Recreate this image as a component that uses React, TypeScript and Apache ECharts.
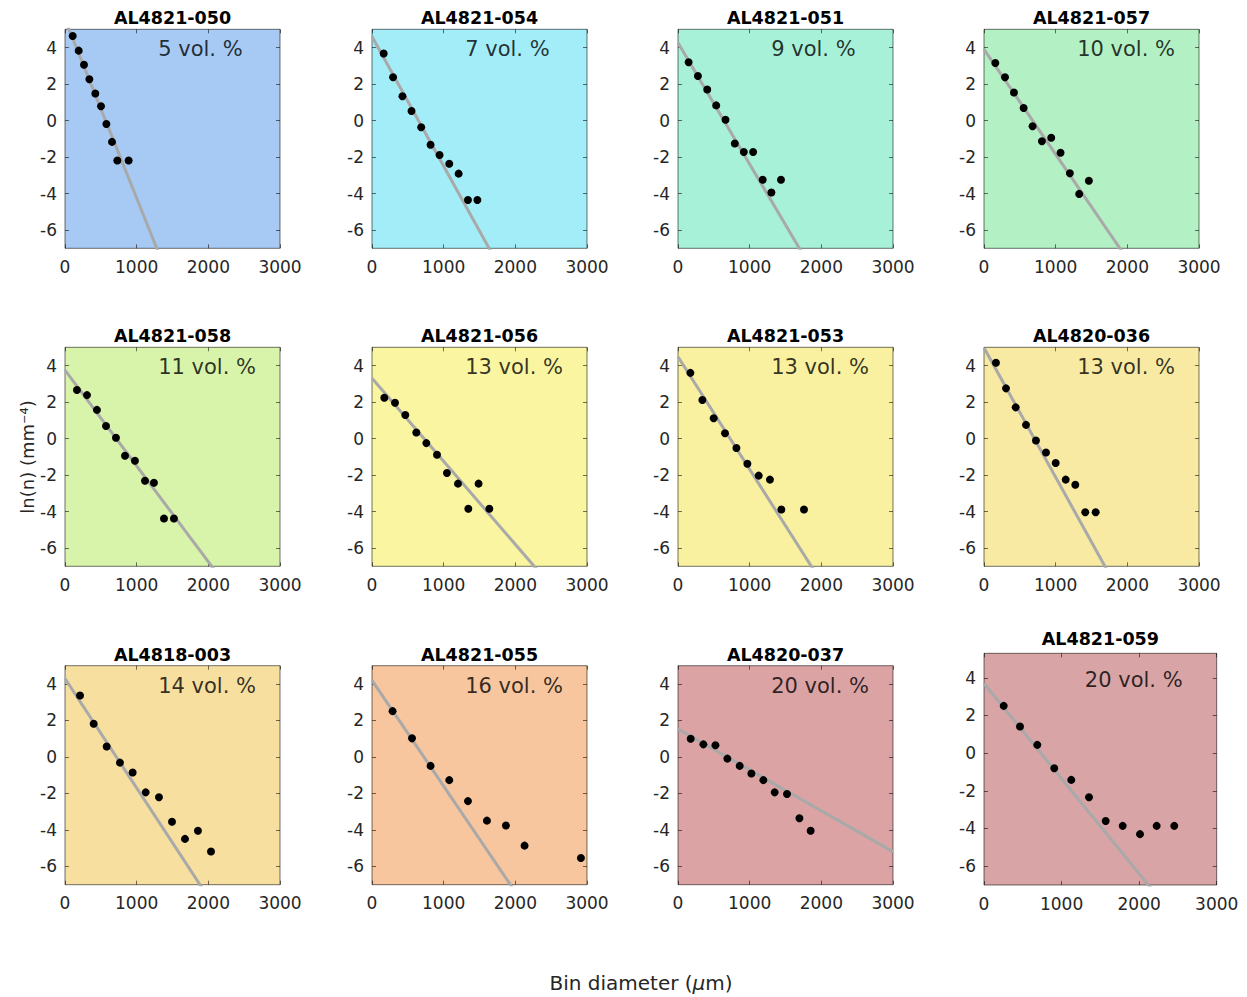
import React, { useEffect, useRef } from "react";
import * as echarts from "echarts";

// ---- data ----
const sampleNames = [
  "AL4821-050", "AL4821-054", "AL4821-051", "AL4821-057",
  "AL4821-058", "AL4821-056", "AL4821-053", "AL4820-036",
  "AL4818-003", "AL4821-055", "AL4820-037", "AL4821-059",
];
const volLabels = [
  "5 vol. %", "7 vol. %", "9 vol. %", "10 vol. %",
  "11 vol. %", "13 vol. %", "13 vol. %", "13 vol. %",
  "14 vol. %", "16 vol. %", "20 vol. %", "20 vol. %",
];
const bgColors = [
  "#A6CAF4", "#A3EDF8", "#A8F1D9", "#B3F1C4",
  "#D8F4AA", "#F9F5A0", "#F9F19F", "#F8EAA2",
  "#F7DFA0", "#F7C69E", "#DBA3A4", "#D8A4A6",
];
const fitIntercepts = [5.55, 4.6, 4.26, 3.9, 3.75, 3.3, 4.48, 4.98, 4.3, 4.2, 1.53, 3.7];
const fitSlopes = [-0.0098, -0.0071, -0.00665, -0.00575, -0.00525, -0.00455, -0.00617, -0.0071, -0.006, -0.0058, -0.00224, -0.00505];
const xTicks = [0, 1000, 2000, 3000];
const yTicks = [-6, -4, -2, 0, 2, 4];

const p050x = [107, 191, 265, 340, 423, 502, 577, 656, 730, 888];
const p050y = [4.63, 3.83, 3.06, 2.26, 1.48, 0.78, -0.19, -1.17, -2.19, -2.19];
const p054x = [163, 294, 425, 551, 686, 817, 943, 1078, 1209, 1339, 1470];
const p054y = [3.67, 2.37, 1.33, 0.52, -0.37, -1.33, -1.89, -2.37, -2.91, -4.35, -4.35];
const p051x = [148, 278, 408, 533, 663, 793, 918, 1048, 1182, 1303, 1437];
const p051y = [3.19, 2.44, 1.7, 0.83, 0.04, -1.26, -1.72, -1.72, -3.24, -3.94, -3.24];
const p057x = [158, 293, 418, 553, 678, 808, 938, 1068, 1198, 1328, 1463];
const p057y = [3.15, 2.37, 1.54, 0.69, -0.31, -1.13, -0.94, -1.76, -2.89, -4.02, -3.3];
const p058x = [167, 307, 446, 572, 711, 837, 976, 1116, 1241, 1381, 1520];
const p058y = [2.66, 2.38, 1.57, 0.69, 0.04, -0.94, -1.22, -2.31, -2.42, -4.38, -4.38];
const p056x = [172, 321, 465, 618, 758, 907, 1046, 1200, 1344, 1487, 1637];
const p056y = [2.24, 1.96, 1.29, 0.33, -0.25, -0.89, -1.89, -2.47, -3.85, -2.47, -3.85];
const p053x = [173, 340, 498, 656, 815, 968, 1126, 1283, 1442, 1758];
const p053y = [3.6, 2.11, 1.11, 0.29, -0.52, -1.38, -2.03, -2.25, -3.89, -3.89];
const p036x = [167, 307, 442, 586, 725, 865, 1000, 1140, 1274, 1413, 1558];
const p036y = [4.15, 2.75, 1.71, 0.75, -0.11, -0.76, -1.34, -2.25, -2.53, -4.04, -4.04];
const p003x = [209, 400, 582, 767, 944, 1126, 1311, 1493, 1674, 1855, 2037];
const p003y = [3.37, 1.82, 0.57, -0.31, -0.85, -1.94, -2.21, -3.55, -4.49, -4.04, -5.18];
const p055x = [287, 558, 817, 1078, 1339, 1604, 1869, 2129, 2915];
const p055y = [2.51, 1.02, -0.49, -1.27, -2.42, -3.49, -3.76, -4.86, -5.54];
const p037x = [177, 354, 522, 689, 861, 1024, 1191, 1349, 1521, 1694, 1851];
const p037y = [1.0, 0.69, 0.64, -0.09, -0.49, -0.91, -1.27, -1.94, -2.03, -3.36, -4.04];
const p059x = [254, 464, 687, 906, 1125, 1354, 1569, 1788, 2011, 2226, 2453];
const p059y = [2.51, 1.41, 0.44, -0.8, -1.42, -2.34, -3.6, -3.86, -4.3, -3.86, -3.86];

const panelXs = [p050x, p054x, p051x, p057x, p058x, p056x, p053x, p036x, p003x, p055x, p037x, p059x];
const panelYs = [p050y, p054y, p051y, p057y, p058y, p056y, p053y, p036y, p003y, p055y, p037y, p059y];

const FONT = '"DejaVu Sans", "Liberation Sans", sans-serif';
const FRAME = "rgba(0,0,0,0.55)";

type Layout = { left: number; top: number; width: number; height: number; yMax: number; titleGap: number };

function buildLayouts(): Layout[] {
  const colLeft = [65, 372, 678, 984];
  const rowTop = [29.3, 347.3, 665.7];
  const out: Layout[] = [];
  for (let r = 0; r < 3; r++) {
    for (let c = 0; c < 4; c++) {
      if (r === 2 && c === 3) {
        out.push({ left: 984, top: 653.3, width: 232.7, height: 231.7, yMax: 5.3, titleGap: 14 });
      } else {
        out.push({ left: colLeft[c], top: rowTop[r], width: 215, height: 219, yMax: 5, titleGap: 11 });
      }
    }
  }
  return out;
}

export default function App() {
  const ref = useRef<HTMLDivElement>(null);
  useEffect(() => {
    document.body.style.margin = "0";
    if (!ref.current) return;
    const chart = echarts.init(ref.current, null, { renderer: "svg" });
    const layouts = buildLayouts();

    const grids: any[] = [];
    const xAxes: any[] = [];
    const yAxes: any[] = [];
    const series: any[] = [];
    const graphics: any[] = [];

    layouts.forEach((l, i) => {
      grids.push({
        left: l.left, top: l.top, width: l.width, height: l.height,
        show: true, backgroundColor: bgColors[i], borderColor: FRAME, borderWidth: 1,
        containLabel: false, outerBoundsMode: "none",
      });
      const tick = { inside: true, length: 4, lineStyle: { color: FRAME, width: 1 } };
      const noLine = { show: false, onZero: false };
      xAxes.push({
        gridIndex: i, type: "value", min: xTicks[0], max: xTicks[xTicks.length - 1], interval: 1000,
        position: "bottom", axisLine: noLine, splitLine: { show: false },
        axisTick: tick,
        axisLabel: {
          margin: 10, fontFamily: FONT, fontSize: 17, color: "#262626",
          formatter: (v: number) => String(v),
        },
      });
      xAxes.push({
        gridIndex: i, type: "value", min: xTicks[0], max: xTicks[xTicks.length - 1], interval: 1000,
        position: "top", axisLine: noLine, splitLine: { show: false },
        axisTick: tick, axisLabel: { show: false },
      });
      yAxes.push({
        gridIndex: i, type: "value", min: -7, max: l.yMax, position: "left",
        axisLine: noLine, splitLine: { show: false },
        axisTick: { ...tick, customValues: yTicks },
        axisLabel: {
          customValues: yTicks, margin: 8, fontFamily: FONT, fontSize: 17, color: "#262626",
          formatter: (v: number) => String(v),
        },
      });
      yAxes.push({
        gridIndex: i, type: "value", min: -7, max: l.yMax, position: "right",
        axisLine: noLine, splitLine: { show: false },
        axisTick: { ...tick, customValues: yTicks }, axisLabel: { show: false },
      });
      const a = fitIntercepts[i];
      const b = fitSlopes[i];
      series.push({
        type: "line", xAxisIndex: 2 * i, yAxisIndex: 2 * i,
        data: [[0, a], [3000, a + 3000 * b]],
        symbol: "none", silent: true, clip: true, z: 2,
        lineStyle: { color: "#a9a9a9", width: 3 },
      });
      series.push({
        type: "scatter", xAxisIndex: 2 * i, yAxisIndex: 2 * i,
        data: panelXs[i].map((x, j) => [x, panelYs[i][j]]),
        symbolSize: 8, itemStyle: { color: "#000", opacity: 1 }, z: 3,
      });
      graphics.push({
        type: "text", x: l.left + l.width / 2, y: l.top - l.titleGap, z: 10,
        style: {
          text: sampleNames[i], fontFamily: FONT, fontWeight: "bold", fontSize: 17.5,
          fill: "#000", align: "center", verticalAlign: "middle",
        },
      });
      const volX = l.left + (1300 / 3000) * l.width;
      const volY = l.top + ((l.yMax - 3.9) / (l.yMax + 7)) * l.height;
      graphics.push({
        type: "text", x: volX, y: volY, z: 10,
        style: {
          text: volLabels[i], fontFamily: FONT, fontSize: 21,
          fill: "rgba(0,0,0,0.8)", align: "left", verticalAlign: "middle",
        },
      });
    });

    graphics.push({
      type: "text", x: 27, y: 457, rotation: Math.PI / 2, z: 10,
      style: {
        text: "ln(n) (mm\u207B\u2074)", fontFamily: FONT, fontSize: 18,
        fill: "#262626", align: "center", verticalAlign: "middle",
      },
    });
    graphics.push({
      type: "text", x: 641, y: 983, z: 10,
      style: {
        text: "Bin diameter ({it|\u03BC}m)", fontFamily: FONT, fontSize: 20,
        fill: "#262626", align: "center", verticalAlign: "middle",
        rich: { it: { fontFamily: FONT, fontSize: 20, fontStyle: "italic", fill: "#262626" } },
      },
    });

    chart.setOption({
      animation: false,
      backgroundColor: "#ffffff",
      grid: grids,
      xAxis: xAxes,
      yAxis: yAxes,
      series,
      graphic: graphics,
    });
    return () => chart.dispose();
  }, []);
  return <div ref={ref} style={{ width: 1247, height: 997 }} />;
}
